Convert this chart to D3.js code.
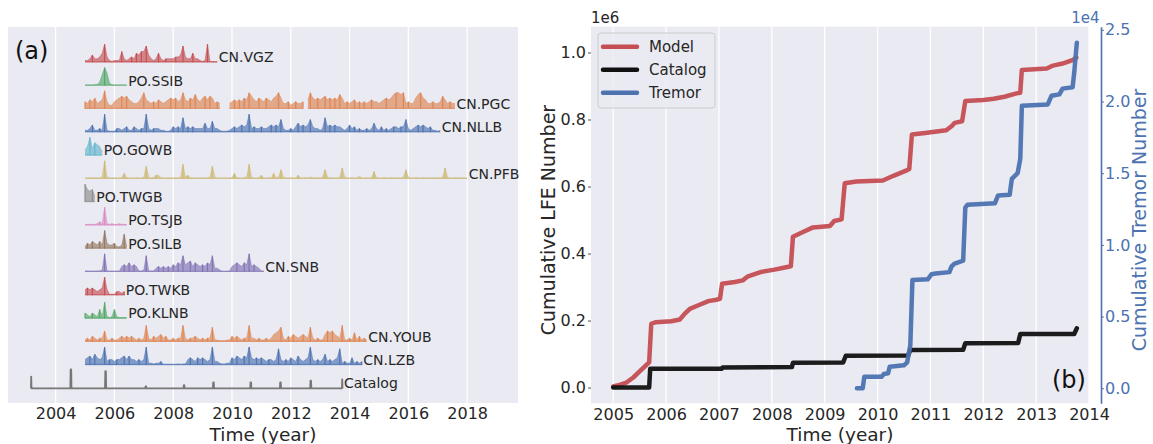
<!DOCTYPE html>
<html><head><meta charset="utf-8">
<script src="https://cdn.jsdelivr.net/npm/d3@7"></script>
<style>
body{margin:0;background:#fff}
svg{display:block}
text{font-family:"DejaVu Sans",sans-serif}
</style>
</head><body>
<svg id="chart" width="1153" height="444"></svg>
<script>
// ---------------- Panel (a) data: monthly relative LFE activity (0-10), starting 2005.0 ----------------
const stationNames = ["CN.VGZ","PO.SSIB","CN.PGC","CN.NLLB","PO.GOWB","CN.PFB","PO.TWGB","PO.TSJB","PO.SILB","CN.SNB","PO.TWKB","PO.KLNB","CN.YOUB","CN.LZB"];
const seriesStart = 2005.0;
const vgz = [1,1,2,4,2,2,3,5,10,3, 1,0.5,1,1,1,6,2,1,2,3, 2,5,4,6,6,9,4,2,1,2, 5,2,1,2,2,2,2,3,3,4, 9,3,2,2,5,2,2,1,0.5,1, 10,0.5,0.3,0.3,0.3];
const ssib = [0.3,0.3,0.3,0.3,0.4,0.6,2,6,10,7,1.5,0.4,0.3,0.3,0.3,0.3,0.3,0.3];
const pgc = [4,3,5,4,6,3,4,5, 10, 4,2,2, 4,5,6,7,6,7,5,4, 3,3,4, 6,9,5, 4,3,4,3, 5,4,3,4,5, 6,5,6, 4,5, 9,
  5,4,6,5,8,5,4, 6,7,5,7,6, 3,4,3, null,null,null, 3,4,5,4,5, 4,6,5, 9,7,
  5,4,6,5,4,6,5,4,6,7,9,6, 3,3,4,2,3,4,3,3,4,null, 5,9,6, 5,6,5,6,7,5,6,5,6,5, 8,6,
  3,4,3,4,5,3,4,3,4,3, 4,5,4,4,3,4,5, 6,5,6, 8,9,9,8,9, 3,4,3,3, 6,8,9,6,5, 3,3,4,3,3,4, 7,5, 3,4,3,3];
const nllb = [1,1,2,4,1,1,2,1, 10, 1,0.5,0.5,0.5, 2,2,1,2, 3, 1,1, 3,2, 1,2,2, 10, 2,1,2, 2,2, 1,1,0.5,0.5,1,
  3,2,3,2, 8, 2,3,2,3,2,2,2, 2,5, 2,2, 6, 2,2,1, 0.5,0.5,0.5,1, 2,3,2,3, 4,3,4, 10,
  2,3,2,2,3,2,2,3,4, 3,4,3, 7, 2,1,1,2,1, 3,5, 3,4,3,4, 7, 3,2,2,1,2, 8, 3,4,3,4,3,3,
  2,1,2, 4, 2,3, 1,2,1,1,2,1,2, 5, 2,1,3, 1,2,1,2, 3,3,2,3,3, 7, 2,1,2, 3,4,3,4,3,2,3, 1,1,0.5,1];
const gowb = [3,5,10,4,7,6,5,2];
const pfb = [0.3,0.3,0.5,0.3,0.3,0.5,0.3,1,10,1, 0.3,0.3,0.5,0.3,0.3,0.5,3,0.5,0.3,0.3,
  0.3,0.5,0.3,0.3,1,7,1,0.3,0.5,2, 2,0.5,0.3,0.3,0.5,0.3,0.3,0.5,0.3,1,
  8,1,2,0.5,0.3,0.3,0.5,0.3,0.3,0.5, 0.3,1,7,1,0.3,0.3,0.3,0.3,0.3,0.3,
  0.5,3,0.5,0.3,0.3,0.5,1,8,1,0.3, 0.3,0.5,2,0.3,0.3,0.5,0.3,3,0.5,1,
  5,1,0.3,0.3,0.5,0.3,0.3,2,0.3,0.3, 0.5,0.3,1,0.3,0.3,0.5,0.3,1,5,1,
  0.3,0.5,0.3,0.3,1,6,1,0.3,0.3,0.5, 0.3,0.3,1.5,0.3,0.3,0.5,0.3,0.5,4,0.5,
  0.3,0.3,0.5,0.3,0.3,0.5,0.3,0.3,0.5,0.3, 1,5,1,0.3,0.3,0.5,0.3,0.3,0.5,0.3,
  0.3,0.5,0.3,0.3,0.5,0.3,1,6,1,0.3, 0.3,0.5,0.3,0.3,0.5,0.3,0.3];
const twgb = [10,7,6,7,3];
const tsjb = [0.5,0.5,0.5,0.5,0.5,1,2,1,10,1,0.5,1,0.5,0.5,1,0.5,0.5,0.5];
const silb = [1,3,2,4,3,2,4,2,10,3,2,2,3,1,1,2,8,1];
const snb = [0.5,0.5,0.3,0.5,0.3,0.5,0.5,1, 10, 0.5,0.3,0.5,0.3,0.5,0.3, 3,4,3,5,3,4,3, 0.5,0.5,1, 9,
  0.5,0.5,0.5, 2,3,2,3,2,3,2, 4,3,5,4, 9, 4,5,6,3,5,4,3, 4,3,5,4, 9, 2,2,1, 0.3,0.3,0.3,0.5,
  3,4,5,4,3,5,4, 10, 3,4,3,2, 0.5,0.5];
const twkb = [3,4,3,4,3,2,3,4,10,3,0.5,0.5,0.5,2,2,1,2];
const klnb = [3,2,1,3,2,1,5,1,9,1,0.5,1,5,1,0.5,0.5,0.5,0.5];
const youb = [1,2,1,3,2,1,2,2, 6, 1,1,2,1,1,2, 3,2,3,2,3,2, 1,2,1,2, 9, 2,1, 3,2,3,4,2,3, 1,1,2,1,2,2, 9,
  2,1,2,2, 3,2, 1,2,1,2,2, 8, 1,1,0.5,0.5,0.5,1,1, 3,2,3,2, 1,2,2, 9, 2,2,1,2,1, 1,2,1,2, 4,5,6, 8,
  2,1, 3,2,4,3,2,3,4,3,2, 8, 2,1,2,1,1, 4,6,5,6,4,3,2, 9, 1,1,2,1, 5, 1,3,1,2,1];
const lzb = [3,4,5,3,6,4,3,4, 10, 2,3,3,2,3,3, 4,5,3,5,3, 3,2,3,2,3, 10, 1,1,0.5,1,1, 2,
  0.3,0.3,0.3,0.3,0.3,0.3,0.5,0.3,0.5,0.5, 3,4,3,2,4,3,4,3, 2,3, 10, 2,2,1,0.5,0.5,1,1,
  4,3,5,4,3,5,4, 10, 4,3,4,3,4, 3,2,3,3,2,3, 9, 3,2, 3,2,4,3,2,5,3,2,3, 4, 10,
  3,2,3,2,3, 6, 2,3,2,3,4, 9, 1,2,1,1, 4, 1,2,1,2];
// Catalog: detection record with isolated bursts
const catalogStart = 2003.16, catalogEnd = 2013.76;
const catalogYears = [2003.16, 2004.52, 2005.70, 2007.07, 2008.37, 2009.37, 2010.64, 2011.65, 2012.68, 2013.76];
const catalogHeights = [6.5, 10.5, 9.5, 1, 1.7, 3.3, 3.3, 3.3, 4.2, 5];
const ticksA = [2004, 2006, 2008, 2010, 2012, 2014, 2016, 2018];

// ---------------- Panel (b) data ----------------
const modelYears = [2005.00,2005.12,2005.25,2005.38,2005.50,2005.63,2005.68,2005.72,2005.80,2006.10,2006.26,2006.35,2006.45,2006.60,2006.80,2006.95,2007.02,2007.06,2007.30,2007.45,2007.55,2007.80,2008.05,2008.20,2008.36,2008.40,2008.60,2008.78,2009.10,2009.18,2009.32,2009.38,2009.60,2010.10,2010.30,2010.55,2010.60,2010.65,2010.90,2011.30,2011.40,2011.46,2011.60,2011.66,2012.00,2012.20,2012.40,2012.63,2012.70,2012.73,2013.20,2013.30,2013.50,2013.70,2013.76];
const modelValues = [0.003,0.008,0.015,0.030,0.048,0.068,0.075,0.190,0.195,0.198,0.203,0.220,0.235,0.245,0.258,0.262,0.265,0.310,0.315,0.320,0.332,0.345,0.352,0.357,0.362,0.450,0.465,0.478,0.482,0.497,0.502,0.610,0.615,0.618,0.632,0.648,0.652,0.755,0.760,0.768,0.780,0.790,0.795,0.855,0.858,0.862,0.868,0.878,0.880,0.948,0.952,0.960,0.967,0.978,0.985];
const catalogCumYears = [2005.00,2005.68,2005.70,2007.05,2007.07,2008.38,2008.40,2009.35,2009.40,2010.58,2010.62,2011.62,2011.66,2012.66,2012.70,2013.72,2013.77];
const catalogCumValues = [0,0,0.056,0.056,0.060,0.061,0.074,0.075,0.095,0.096,0.112,0.113,0.132,0.133,0.160,0.160,0.177];
const tremorYears = [2009.61,2009.72,2009.75,2010.08,2010.12,2010.20,2010.23,2010.50,2010.56,2010.62,2010.66,2010.95,2011.02,2011.10,2011.36,2011.40,2011.46,2011.62,2011.66,2011.70,2012.22,2012.28,2012.50,2012.54,2012.65,2012.70,2012.73,2013.22,2013.29,2013.44,2013.50,2013.69,2013.72,2013.77];
const tremorValues = [0.0,0.0,0.08,0.08,0.10,0.105,0.15,0.16,0.18,0.30,0.755,0.76,0.795,0.80,0.81,0.85,0.87,0.89,1.26,1.28,1.29,1.345,1.35,1.46,1.50,1.60,1.97,1.98,2.04,2.05,2.09,2.10,2.20,2.41];
const ticksB = [2005,2006,2007,2008,2009,2010,2011,2012,2013,2014];
const lfeTicks = [0,0.2,0.4,0.6,0.8,1.0];
const tremorTicks = [0,0.5,1.0,1.5,2.0,2.5];
const legendNames = ["Model","Catalog","Tremor"];

// ---------------- Styles ----------------
const stationColors = ["#C44E52","#55A868","#DD8452","#4C72B0","#64B5CD","#CCB974","#8C8C8C","#DA8BC3","#937860","#8172B3","#C44E52","#55A868","#DD8452","#4C72B0"];
const lineColors = ["#C44E52","#111111","#4C72B0"];
const BG = "#EAEAF2", TXT = "#262626", BLUE = "#4C72B0";

const svg = d3.select("#chart");
svg.append("rect").attr("width",1153).attr("height",444).attr("fill","#fff");

// ================= Panel (a) =================
const A = {l:8, r:518, t:27, b:403};
const xA = d3.scaleLinear().domain([2002.38, 2019.73]).range([A.l, A.r]);
const rowNames = stationNames.concat(["Catalog"]);
const rowY = d3.scalePoint().domain(rowNames).range([62.3, 388.3]);
const hA = d3.scaleLinear().domain([0, 10]).range([0, 18]);

const gA = svg.append("g");
gA.append("rect").attr("x",A.l).attr("y",A.t).attr("width",A.r-A.l).attr("height",A.b-A.t).attr("fill",BG);
gA.selectAll("line.grid").data(ticksA).join("line")
  .attr("x1",d=>xA(d)).attr("x2",d=>xA(d)).attr("y1",A.t).attr("y2",A.b)
  .attr("stroke","#fff").attr("stroke-width",1.3);

const stationData = [vgz, ssib, pgc, nllb, gowb, pfb, twgb, tsjb, silb, snb, twkb, klnb, youb, lzb];
stationData.forEach((arr, k) => {
  const name = stationNames[k], base = rowY(name), col = stationColors[k];
  const pts = arr.map((v, i) => ({t: seriesStart + i/12, v}));
  const area = d3.area().defined(d => d.v != null)
    .x(d => xA(d.t)).y0(base).y1(d => base - hA(d.v));
  const top = d3.line().defined(d => d.v != null).x(d => xA(d.t)).y(d => base - hA(d.v));
  const g = gA.append("g");
  g.append("path").attr("d", area(pts)).attr("fill", col).attr("fill-opacity", 0.65);
  g.append("path").attr("d", top(pts)).attr("fill","none").attr("stroke", col).attr("stroke-width", 0.6).attr("stroke-opacity", 0.8);
  // baseline trace
  const segs = [];
  let cur = [];
  pts.forEach(p => { if (p.v == null) { if (cur.length) segs.push(cur); cur = []; } else cur.push(p); });
  if (cur.length) segs.push(cur);
  segs.forEach(s => g.append("line").attr("x1", xA(s[0].t)).attr("x2", xA(s[s.length-1].t))
    .attr("y1", base - 0.5).attr("y2", base - 0.5).attr("stroke", col).attr("stroke-width", 1.4).attr("stroke-opacity", 0.6));
  // sharpen local peaks
  const peaks = pts.filter((d, i) => d.v != null && d.v >= 2 &&
    (i === 0 || pts[i-1].v == null || d.v > pts[i-1].v) && (i === pts.length-1 || pts[i+1].v == null || d.v >= pts[i+1].v));
  g.selectAll("line.spk").data(peaks).join("line")
    .attr("x1", d => xA(d.t)).attr("x2", d => xA(d.t))
    .attr("y1", base).attr("y2", d => base - hA(d.v))
    .attr("stroke", col).attr("stroke-width", 1.2).attr("stroke-opacity", 0.95);
  gA.append("text").attr("x", xA(seriesStart + (arr.length-1)/12) + 1.5).attr("y", base - 5)
    .attr("dominant-baseline","central").attr("font-size",14).attr("fill",TXT).text(name);
});
// Catalog row
{
  const base = rowY("Catalog");
  const pts = [[catalogStart, 0]];
  catalogYears.forEach((t, i) => { pts.push([t-0.02, 0], [t-0.01, catalogHeights[i]], [t+0.01, catalogHeights[i]], [t+0.02, 0]); });
  pts.push([catalogEnd, 0]);
  pts.sort((a,b)=>a[0]-b[0]);
  const clipped = pts.filter(p => p[0] >= catalogStart - 0.001 && p[0] <= catalogEnd + 0.001);
  const line = d3.line().x(d => xA(d[0])).y(d => base - hA(d[1]));
  gA.append("path").attr("d", line(clipped)).attr("fill","#7A7A7A").attr("fill-opacity",0.5)
    .attr("stroke","#777777").attr("stroke-width",1.8).attr("stroke-linejoin","round");
  gA.append("text").attr("x", xA(catalogEnd) + 1.5).attr("y", base - 5)
    .attr("dominant-baseline","central").attr("font-size",14).attr("fill",TXT).text("Catalog");
}
const axA = gA.append("g").attr("transform",`translate(0,${A.b})`)
  .call(d3.axisBottom(xA).tickValues(ticksA).tickFormat(d3.format("d")).tickSize(0).tickPadding(5));
axA.select(".domain").remove();
axA.selectAll("text").attr("font-size",16).attr("fill",TXT).attr("font-family","DejaVu Sans");
gA.append("text").attr("x",(A.l+A.r)/2).attr("y",441).attr("text-anchor","middle").attr("font-size",18.5).attr("fill",TXT).text("Time (year)");
gA.append("text").attr("x",15).attr("y",59).attr("font-size",24).attr("fill","#111").text("(a)");

// ================= Panel (b) =================
const B = {l:591, r:1089, t:26.7, b:403.3};
const xB = d3.scaleLinear().domain([2004.58, 2014.0]).range([B.l, B.r]);
const yB = d3.scaleLinear().domain([-0.047, 1.077]).range([B.b, B.t]);
const yT = d3.scaleLinear().domain([-0.105, 2.522]).range([B.b, B.t]);
const gB = svg.append("g");
gB.append("rect").attr("x",B.l).attr("y",B.t).attr("width",B.r-B.l).attr("height",B.b-B.t).attr("fill",BG);
gB.selectAll("line.grid").data(ticksB).join("line")
  .attr("x1",d=>xB(d)).attr("x2",d=>xB(d)).attr("y1",B.t).attr("y2",B.b)
  .attr("stroke","#fff").attr("stroke-width",1.3);

const seriesB = [
  {xs: modelYears, ys: modelValues, y: yB},
  {xs: catalogCumYears, ys: catalogCumValues, y: yB},
  {xs: tremorYears, ys: tremorValues, y: yT}
];
seriesB.forEach((s, k) => {
  const line = d3.line().x((d,i) => xB(s.xs[i])).y(d => s.y(d));
  gB.append("path").attr("d", line(s.ys)).attr("fill","none").attr("stroke", lineColors[k])
    .attr("stroke-width", 4.5).attr("stroke-linejoin","round").attr("stroke-linecap","round").attr("stroke-opacity",0.95);
});

const axBx = gB.append("g").attr("transform",`translate(0,${B.b})`)
  .call(d3.axisBottom(xB).tickValues(ticksB).tickFormat(d3.format("d")).tickSize(0).tickPadding(5));
axBx.select(".domain").remove();
axBx.selectAll("text").attr("font-size",16).attr("fill",TXT).attr("font-family","DejaVu Sans");

const axBl = gB.append("g").attr("transform",`translate(${B.l},0)`)
  .call(d3.axisLeft(yB).tickValues(lfeTicks).tickFormat(d3.format(".1f")).tickSize(3).tickPadding(2));
axBl.select(".domain").remove();
axBl.selectAll("line").attr("stroke",TXT).attr("stroke-width",0.8);
axBl.selectAll("text").attr("font-size",16).attr("fill",TXT).attr("font-family","DejaVu Sans");

const axBr = gB.append("g").attr("transform",`translate(1101,0)`)
  .call(d3.axisRight(yT).tickValues(tremorTicks).tickFormat(d3.format(".1f")).tickSize(3).tickSizeOuter(0).tickPadding(1));
axBr.select(".domain").attr("stroke",BLUE).attr("stroke-width",1.6);
axBr.selectAll(".tick line").attr("stroke",BLUE).attr("stroke-width",1);
axBr.selectAll("text").attr("font-size",16).attr("fill",BLUE).attr("font-family","DejaVu Sans");

gB.append("text").attr("x",B.l).attr("y",22.5).attr("font-size",15).attr("fill",TXT).text("1e6");
gB.append("text").attr("x",1099.5).attr("y",22.5).attr("text-anchor","end").attr("font-size",15).attr("fill",BLUE).text("1e4");

gB.append("text").attr("transform","translate(548,220) rotate(-90)").attr("text-anchor","middle")
  .attr("dominant-baseline","central").attr("font-size",19).attr("fill",TXT).text("Cumulative LFE Number");
gB.append("text").attr("transform","translate(1139,220) rotate(-90)").attr("text-anchor","middle")
  .attr("dominant-baseline","central").attr("font-size",19).attr("fill",BLUE).text("Cumulative Tremor Number");
gB.append("text").attr("x",(B.l+B.r)/2).attr("y",441).attr("text-anchor","middle").attr("font-size",18.5).attr("fill",TXT).text("Time (year)");
gB.append("text").attr("x",1052).attr("y",388).attr("font-size",24).attr("fill","#111").text("(b)");

// Legend
const lg = gB.append("g");
lg.append("rect").attr("x",598).attr("y",33).attr("width",117).attr("height",75).attr("rx",3)
  .attr("fill",BG).attr("fill-opacity",0.85).attr("stroke","#CCCCCC").attr("stroke-width",1);
const legY = d3.scalePoint().domain(legendNames).range([46.7, 92.7]);
legendNames.forEach((n, k) => {
  lg.append("line").attr("x1",603).attr("x2",637).attr("y1",legY(n)).attr("y2",legY(n))
    .attr("stroke",lineColors[k]).attr("stroke-width",4.5).attr("stroke-linecap","round");
  lg.append("text").attr("x",649).attr("y",legY(n)).attr("dominant-baseline","central")
    .attr("font-size",15).attr("fill",TXT).text(n);
});
</script>
</body></html>
